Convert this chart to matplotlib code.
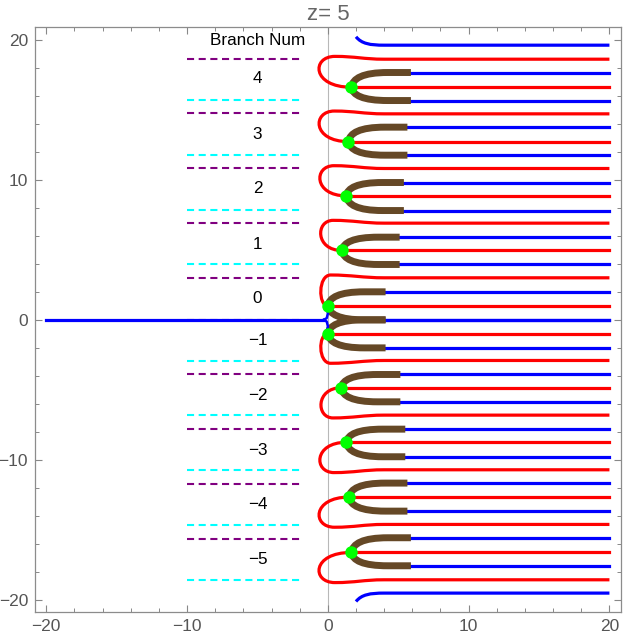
import matplotlib.pyplot as plt
import matplotlib.ticker as mticker
from matplotlib.path import Path
from matplotlib.patches import PathPatch

plt.rcParams['font.family'] = ['Liberation Sans', 'DejaVu Sans']

# branch labels on the left
branch_nums = [4, 3, 2, 1, 0, -1, -2, -3, -4, -5]
label_y = [17.2, 13.25, 9.35, 5.4, 1.5, -1.5, -5.4, -9.3, -13.2, -17.1]
purple_y = [18.6, 14.74, 10.82, 6.94, 3.0, 0.0, -3.87, -7.8, -11.72, -15.65]
cyan_y = [15.67, 11.75, 7.82, 3.95, -2.92, -6.8, -10.72, -14.64, -18.57]

# branch points and the curves leaving them
green_x = [1.67, 1.46, 1.3, 1.0, 0.0, 0.0, 0.94, 1.31, 1.5, 1.67]
green_y = [16.6, 12.72, 8.85, 4.95, 1.0, -1.0, -4.85, -8.74, -12.65, -16.6]
arm_hi = [17.65, 13.75, 9.8, 5.9, 2.0, 0.0, -3.9, -7.8, -11.65, -15.55]
arm_lo = [15.65, 11.75, 7.8, 3.95, 0.0, -2.0, -5.85, -9.77, -13.65, -17.55]
arm_end = [5.9, 5.65, 5.4, 5.1, 4.1, 4.1, 5.15, 5.5, 5.65, 5.9]
loop_y = [18.6, 14.7, 10.8, 6.9, 3.0, -2.9, -6.8, -10.7, -14.6, -18.55]
loop_left = [-0.6, -0.6, -0.55, -0.5, -0.5, -0.5, -0.48, -0.55, -0.6, -0.6]
edge_y = [19.6, -19.5]

RED = (1, 0, 0)
BLUE = (0, 0, 1)
BROWN = '#654826'
X_RIGHT = 20


def add_path(ax, verts, codes, color, lw, z):
    ax.add_patch(PathPatch(Path(verts, codes), fill=False, edgecolor=color,
                           lw=lw, zorder=z, capstyle='butt', joinstyle='round'))


fig, ax = plt.subplots(figsize=(6.23, 6.42), dpi=100)
fig.subplots_adjust(left=0.0562, right=0.9963, bottom=0.0467, top=0.958)

# axis line
ax.axvline(0, color='#b8b8b8', lw=0.8, zorder=0)

# left blue cut along the negative real axis
ax.plot([-20, -0.3], [0, 0], color=BLUE, lw=2.3, zorder=3)
for s in (1, -1):
    ax.plot([-0.3, -0.08, 0.0, -0.05], [0, 0.12 * s, 0.45 * s, 0.8 * s],
            color=BLUE, lw=1.8, zorder=5)

for i in range(len(branch_nums)):
    xg, yc = green_x[i], green_y[i]
    yl = loop_y[i]
    s = 1 if yl > yc else -1
    ytop = yl + 0.2 * s
    xtop = 0.2 + 0.18 * xg
    c = (loop_left[i] - 0.125 * (xg + xtop)) / 0.75
    verts = [(xg, yc), (c, yc), (c, ytop), (xtop, ytop),
             (xtop + 1.5, ytop), (2.5, yl), (4.0, yl), (X_RIGHT, yl)]
    codes = [Path.MOVETO, Path.CURVE4, Path.CURVE4, Path.CURVE4,
             Path.CURVE4, Path.CURVE4, Path.CURVE4, Path.LINETO]
    add_path(ax, verts, codes, RED, 2.3, 2)
    ax.plot([xg, X_RIGHT], [yc, yc], color=RED, lw=2.3, zorder=2)

    for ya in (arm_hi[i], arm_lo[i]):
        verts = [(xg, yc), (xg + 0.1, yc + 0.6 * (ya - yc)), (xg + 0.8, ya),
                 (xg + 2.6, ya), (arm_end[i], ya)]
        codes = [Path.MOVETO, Path.CURVE4, Path.CURVE4, Path.CURVE4, Path.LINETO]
        add_path(ax, verts, codes, BROWN, 5, 4)
        ax.plot([arm_end[i], X_RIGHT], [ya, ya], color=BLUE, lw=2.3, zorder=3)

    ax.plot(xg, yc, 'o', color=(0, 1, 0), ms=9, mec='none', zorder=6)

# outermost blue lines with their hooks
for ye in edge_y:
    s = 1 if ye > 0 else -1
    verts = [(2.0, ye + 0.6 * s), (2.4, ye + 0.1 * s), (3.0, ye), (4.0, ye),
             (X_RIGHT, ye)]
    codes = [Path.MOVETO, Path.CURVE4, Path.CURVE4, Path.CURVE4, Path.LINETO]
    add_path(ax, verts, codes, BLUE, 2.3, 3)

# dashed separators
for yp in purple_y:
    ax.plot([-10, -2], [yp, yp], color='#800080', lw=1.5, dashes=(3.4, 2.2),
            zorder=1)
for yq in cyan_y:
    ax.plot([-10, -2], [yq, yq], color='cyan', lw=1.5, dashes=(3.4, 2.2),
            zorder=1)

ax.text(-5, 19.9, 'Branch Num', ha='center', va='center', fontsize=12.3)
for k, yl in zip(branch_nums, label_y):
    ax.text(-5, yl, str(k).replace('-', '\u2212'), ha='center', va='center',
            fontsize=12.3)

ax.set_xlim(-20.8, 20.8)
ax.set_ylim(-20.85, 20.9)
ax.xaxis.set_major_locator(mticker.MultipleLocator(10))
ax.yaxis.set_major_locator(mticker.MultipleLocator(10))
ax.xaxis.set_minor_locator(mticker.MultipleLocator(2))
ax.yaxis.set_minor_locator(mticker.MultipleLocator(2))
ax.tick_params(which='both', direction='in', top=True, right=True,
               color='#888888', labelcolor='#555555', labelsize=12.5, pad=5)
ax.tick_params(which='major', length=5, width=0.8)
ax.tick_params(which='minor', length=3, width=0.7)
for sp in ax.spines.values():
    sp.set_color('#8c8c8c')
    sp.set_linewidth(0.9)

ax.set_title('z= 5', fontsize=16, color='#666666', pad=5)

plt.savefig('out.png', dpi=100)
